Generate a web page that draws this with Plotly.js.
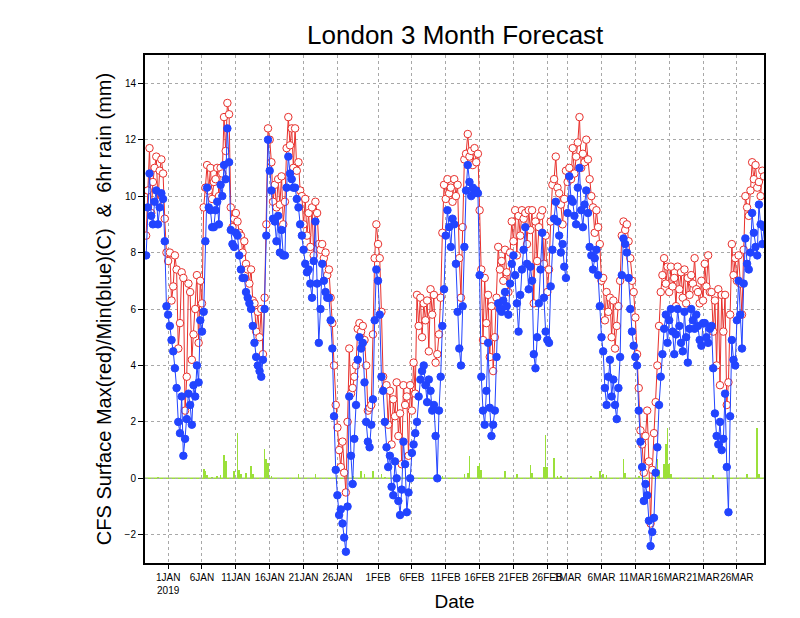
<!DOCTYPE html>
<html>
<head>
<meta charset="utf-8">
<script src="https://cdn.plot.ly/plotly-3.0.1.min.js"></script>
<style>
html,body{margin:0;padding:0;background:#fff;}
#chart{width:800px;height:618px;}
</style>
</head>
<body>
<div id="chart"></div>
<script>
// 6-hourly series, starting 2018-12-28 18:00 UTC
var startTime = '2018-12-28T18:00:00Z';
var stepHours = 6;

var maxTemp = [
  8.6,10.2, 11.7,9.4, 10.5,11.0, 11.4,9.8, 10.9,11.3, 10.8,9.2, 8.0,7.7, 8.0,6.3, 6.8,7.9, 7.4,4.6,
  5.5,7.3, 7.1,2.4, 3.6,6.9, 6.6,4.2, 5.1,6.0, 7.2,4.8, 7.0,6.2, 9.6,10.3, 11.1,10.2, 11.0,9.9,
  10.5,10.6, 11.0,10.0, 11.0,10.8, 12.8,11.6, 13.3,12.9, 9.6,8.9, 9.2,9.4, 9.1,8.7, 8.6,8.0, 8.4,7.6,
  7.4,6.9, 7.4,6.3, 6.2,5.2, 5.9,5.0, 6.0,4.4, 6.4,9.0, 12.4,12.0, 11.2,9.8, 10.4,9.6, 10.6,9.7,
  10.7,9.0, 9.8,11.7, 12.8,11.8, 12.4,11.0, 12.4,10.9, 11.2,10.2, 10.0,9.0, 9.9,8.6, 9.4,8.2, 9.6,7.9,
  9.8,9.4, 8.3,8.1, 8.3,7.8, 8.0,7.2, 7.4,6.4, 5.5,4.0, 2.6,1.8, 1.0,0.4, 1.3,0.2, -0.5,2.0,
  4.6,3.0, 3.2,3.6, 4.0,5.3, 5.5,5.2, 5.4,4.9, 4.0,2.4, 2.5,2.6, 5.1,7.8, 9.0,8.3, 7.8,5.9,
  3.6,3.2, 3.3,1.9, 3.1,1.2, 2.8,2.2, 3.4,1.5, 2.3,0.5, 3.3,2.6, 2.9,0.8, 3.3,2.4, 4.1,3.0,
  6.5,5.4, 6.4,5.0, 6.2,5.6, 6.3,4.5, 6.7,5.8, 6.5,4.1, 4.4,5.1, 6.4,8.7, 10.4,9.9, 10.6,10.1,
  10.3,9.8, 10.6,10.0, 10.4,7.8, 6.4,8.9, 11.3,11.5, 12.2,11.4, 11.6,11.1, 11.7,11.2, 11.5,9.5, 7.4,4.9,
  7.1,5.5, 6.5,4.3, 6.1,3.8, 5.0,6.4, 8.2,7.4, 7.7,7.0, 8.1,7.3, 6.6,8.0, 9.1,8.4, 9.5,7.9,
  9.3,8.6, 9.5,9.2, 9.4,8.3, 9.5,8.8, 9.5,6.2, 9.1,7.7, 8.9,9.3, 9.5,7.6, 8.6,6.6, 7.4,9.1,
  10.4,10.6, 11.4,10.3, 10.1,9.7, 9.0,9.9, 10.9,10.5, 11.0,10.6, 11.7,10.8, 11.4,11.9, 12.8,11.0, 11.5,11.2,
  12.0,11.3, 10.6,10.0, 9.6,8.7, 9.5,8.9, 8.3,7.0, 7.1,5.6, 6.6,5.9, 6.4,5.0, 6.3,4.6, 5.4,6.1,
  7.0,8.6, 9.1,8.8, 9.0,8.4, 7.8,7.0, 6.6,5.7, 4.4,3.2, 1.7,1.2, 0.2,1.5, 2.4,0.6, -1.6,0.3,
  1.6,2.7, 4.0,5.4, 6.6,7.2, 7.8,6.9, 7.5,6.6, 7.5,6.8, 7.1,6.1, 7.5,6.7, 7.3,6.4, 7.4,6.2,
  7.1,6.5, 7.2,6.9, 7.8,6.7, 6.6,6.2, 7.0,6.3, 7.6,6.8, 7.9,6.6, 6.6,5.2, 6.3,4.0, 6.7,3.3,
  6.5,5.2, 6.5,2.6, 3.4,5.8, 8.3,7.2, 7.8,7.0, 7.9,6.9, 5.8,8.1, 10.0,9.6, 9.3,10.2, 11.2,10.6,
  11.1,10.3, 10.5,10.0, 10.9,10.7
];

var minTemp = [
  7.9,9.6, 10.8,9.3, 9.0,9.8, 10.2,9.0, 9.6,10.1, 9.9,8.4, 6.1,5.8, 5.4,4.9, 4.5,3.9, 3.2,2.0,
  1.6,2.9, 0.8,1.4, 2.1,3.0, 2.6,1.9, 3.3,2.9, 4.0,3.4, 5.6,5.2, 5.9,8.4, 10.3,9.6, 9.5,8.9,
  8.9,9.5, 9.8,9.0, 10.4,10.0, 11.1,10.6, 12.4,11.2, 8.8,8.3, 8.2,8.7, 8.6,7.9, 7.4,7.1, 7.1,6.6,
  6.4,6.2, 6.0,5.4, 4.8,4.3, 4.0,3.8, 3.6,4.2, 6.0,8.6, 12.0,10.9, 10.2,9.2, 9.1,8.4, 9.3,8.0,
  8.8,7.9, 7.9,10.3, 11.4,10.8, 10.6,10.3, 10.3,9.9, 9.6,9.0, 8.6,8.1, 7.6,7.3, 7.4,6.9, 6.4,7.7,
  9.1,6.9, 4.8,6.0, 7.6,7.0, 6.6,6.4, 6.4,5.6, 4.6,2.2, 0.3,-0.6, -1.3,-1.1, -1.6,-2.1, -2.6,-1.0,
  2.9,0.8, -0.2,1.4, 2.6,4.2, 5.0,4.6, 4.8,3.4, 2.0,1.3, 1.1,1.9, 2.8,5.6, 7.4,7.0, 5.8,3.6,
  3.1,2.0, 1.1,0.4, 0.8,-0.3, -0.6,0.6, 0.0,-0.8, -1.3,-0.4, 1.3,0.5, -1.2,-0.5, 0.0,0.9, 1.2,1.6,
  2.0,2.9, 3.5,3.8, 4.0,3.3, 2.7,3.5, 3.1,2.4, 2.6,1.5, 0.0,2.4, 3.6,5.4, 6.7,8.6, 9.5,8.9,
  8.2,9.2, 9.0,7.6, 5.9,4.6, 4.0,6.1, 8.2,10.2, 11.1,10.5, 10.0,10.3, 10.1,10.2, 10.1,7.2, 3.6,2.4,
  1.9,3.1, 4.8,2.5, 1.5,1.9, 2.4,4.3, 6.2,6.0, 5.9,6.3, 6.6,6.1, 5.8,6.9, 7.6,7.9, 7.2,6.2,
  5.2,6.5, 7.4,8.1, 8.9,7.6, 6.7,7.5, 7.0,4.4, 3.9,5.0, 6.2,7.4, 8.7,6.4, 5.2,4.9, 4.8,6.8,
  8.1,9.2, 9.8,9.1, 8.6,8.0, 8.3,7.5, 7.1,9.4, 10.7,9.9, 9.8,9.3, 9.0,10.3, 11.0,9.5, 8.9,9.7,
  10.2,9.4, 8.2,7.9, 7.4,7.8, 8.1,7.2, 6.1,5.0, 4.5,3.2, 2.6,3.6, 4.2,2.9, 3.5,2.6, 2.1,3.2,
  4.3,7.2, 8.5,8.3, 8.0,7.1, 6.0,5.2, 4.7,4.3, 4.0,2.4, 1.3,0.4, -0.8,-0.2, -0.6,-1.5, -2.4,-1.9,
  -1.4,0.2, 1.1,2.6, 3.6,4.4, 5.3,5.8, 4.8,5.6, 6.0,5.2, 4.4,5.1, 6.0,5.4, 4.8,4.5, 5.9,5.0,
  4.1,5.3, 6.0,5.6, 5.3,5.8, 5.4,4.9, 4.7,5.5, 5.5,5.0, 4.8,5.3, 5.4,3.9, 2.3,1.5, 1.2,2.0,
  1.0,1.4, 3.0,0.4, -1.2,2.2, 4.9,4.2, 4.0,5.6, 7.0,5.8, 4.6,6.9, 8.5,7.6, 7.4,8.0, 9.4,8.7,
  8.2,7.9, 9.7,9.0, 8.3,8.9
];

var rainTimes = [
  '2018-12-30 12:00', '2019-01-06 06:00', '2019-01-06 12:00', '2019-01-06 18:00',
  '2019-01-07 12:00', '2019-01-08 06:00', '2019-01-08 18:00', '2019-01-09 06:00',
  '2019-01-09 12:00', '2019-01-10 18:00', '2019-01-11 06:00', '2019-01-11 12:00',
  '2019-01-11 18:00', '2019-01-12 12:00', '2019-01-13 06:00', '2019-01-13 12:00',
  '2019-01-15 06:00', '2019-01-15 12:00', '2019-01-15 18:00', '2019-01-16 06:00',
  '2019-01-20 06:00', '2019-01-22 18:00', '2019-01-27 12:00', '2019-01-28 06:00',
  '2019-01-29 12:00', '2019-01-30 00:00', '2019-01-31 06:00', '2019-02-01 12:00',
  '2019-02-02 00:00', '2019-02-10 12:00', '2019-02-13 18:00', '2019-02-14 06:00',
  '2019-02-14 12:00', '2019-02-15 18:00', '2019-02-16 00:00', '2019-02-16 06:00',
  '2019-02-19 18:00', '2019-02-21 12:00', '2019-02-23 12:00', '2019-02-23 18:00',
  '2019-02-25 12:00', '2019-02-25 18:00', '2019-02-26 00:00', '2019-02-27 00:00',
  '2019-02-27 12:00', '2019-02-28 00:00', '2019-03-04 12:00', '2019-03-05 18:00',
  '2019-03-06 06:00', '2019-03-06 18:00', '2019-03-09 06:00', '2019-03-09 12:00',
  '2019-03-11 12:00', '2019-03-14 06:00', '2019-03-14 12:00', '2019-03-15 06:00',
  '2019-03-15 12:00', '2019-03-15 18:00', '2019-03-16 00:00', '2019-03-16 06:00',
  '2019-03-22 12:00', '2019-03-27 12:00', '2019-03-29 00:00', '2019-03-29 06:00'
];
var rainMm = [
  0.03, 0.33, 0.25, 0.12,
  0.05, 0.08, 0.12, 0.82,
  0.6, 0.25, 1.6, 0.3,
  0.15, 0.2, 0.44, 0.15,
  1.05, 0.7, 0.55, 0.1,
  0.15, 0.15, 0.3, 0.1,
  0.25, 0.15, 0.25, 0.15,
  0.05, 0.08, 0.15, 0.2,
  0.8, 0.45, 0.55, 0.3,
  0.25, 0.15, 0.47, 0.2,
  0.4, 1.55, 0.4, 0.73,
  0.1, 0.08, 0.1, 0.26,
  0.15, 0.12, 0.67, 0.2,
  0.1, 0.67, 0.3, 0.5,
  1.2, 1.77, 0.5, 0.15,
  0.12, 0.15, 1.77, 0.15
];

var tickDates = ['2019-01-01','2019-01-06','2019-01-11','2019-01-16','2019-01-21','2019-01-26',
  '2019-02-01','2019-02-06','2019-02-11','2019-02-16','2019-02-21','2019-02-26',
  '2019-03-01','2019-03-06','2019-03-11','2019-03-16','2019-03-21','2019-03-26'];
var tickLabels = ['1JAN<br>2019','6JAN','11JAN','16JAN','21JAN','26JAN',
  '1FEB','6FEB','11FEB','16FEB','21FEB','26FEB',
  '1MAR','6MAR','11MAR','16MAR','21MAR','26MAR'];
var yTicks = [-2, 0, 2, 4, 6, 8, 10, 12, 14];

var times = [];
var t0 = new Date(startTime).getTime();
for (var i = 0; i < maxTemp.length; i++) {
  times.push(new Date(t0 + i * stepHours * 3600000).toISOString().replace('T',' ').slice(0,16));
}

var font = "'Liberation Sans', 'DejaVu Sans', sans-serif";

var traces = [
  {
    type: 'bar', x: rainTimes, y: rainMm,
    marker: {color: '#9be03a', line: {width: 0}},
    width: 6 * 3600000, name: 'rain'
  },
  {
    type: 'scatter', mode: 'lines+markers', x: times, y: maxTemp, name: 'max',
    line: {color: '#e8302c', width: 1},
    marker: {symbol: 'circle', size: 7.5, color: '#ffffff', line: {color: '#e8302c', width: 1}}
  },
  {
    type: 'scatter', mode: 'lines+markers', x: times, y: minTemp, name: 'min',
    line: {color: '#2244ff', width: 1},
    marker: {symbol: 'circle', size: 7.5, color: '#2244ff', line: {color: '#2244ff', width: 1}}
  }
];

var layout = {
  width: 800, height: 618,
  margin: {l: 145, r: 36, t: 55, b: 55},
  paper_bgcolor: '#ffffff', plot_bgcolor: '#ffffff',
  showlegend: false,
  bargap: 0,
  font: {family: font, color: '#000'},
  title: {
    text: 'London 3 Month Forecast',
    font: {family: font, size: 26, color: '#000'},
    x: 0.569, xanchor: 'center', y: 0.943, yanchor: 'middle'
  },
  xaxis: {
    type: 'date',
    range: ['2018-12-28 14:00', '2019-03-30 00:00'],
    tickmode: 'array', tickvals: tickDates, ticktext: tickLabels,
    tickangle: 0,
    tickfont: {family: font, size: 10, color: '#000'},
    ticks: 'outside', ticklen: 4, tickwidth: 1, tickcolor: '#000',
    showgrid: true, gridcolor: '#a8a8a8', griddash: 'dot', gridwidth: 1,
    showline: true, linecolor: '#000', linewidth: 2, mirror: true,
    zeroline: false,
    title: {text: 'Date', font: {family: font, size: 19, color: '#000'}, standoff: 0}
  },
  yaxis: {
    range: [-3, 15],
    tickmode: 'array', tickvals: yTicks,
    tickfont: {family: font, size: 10, color: '#000'},
    ticks: 'outside', ticklen: 5, tickwidth: 1, tickcolor: '#000',
    showgrid: true, gridcolor: '#a8a8a8', griddash: 'dot', gridwidth: 1,
    showline: true, linecolor: '#000', linewidth: 2, mirror: true,
    zeroline: false,
    title: {text: 'CFS Surface Max(red)/Min(blue)(C)  &  6hr rain (mm)', font: {family: font, size: 20, color: '#000'}, standoff: 8}
  },
  shapes: [
    {type: 'line', xref: 'paper', yref: 'y', x0: 0, x1: 1, y0: 0, y1: 0,
     line: {color: '#9be03a', width: 1.5}, layer: 'below'}
  ]
};

Plotly.newPlot('chart', traces, layout, {displayModeBar: false, staticPlot: true});
</script>
</body>
</html>
